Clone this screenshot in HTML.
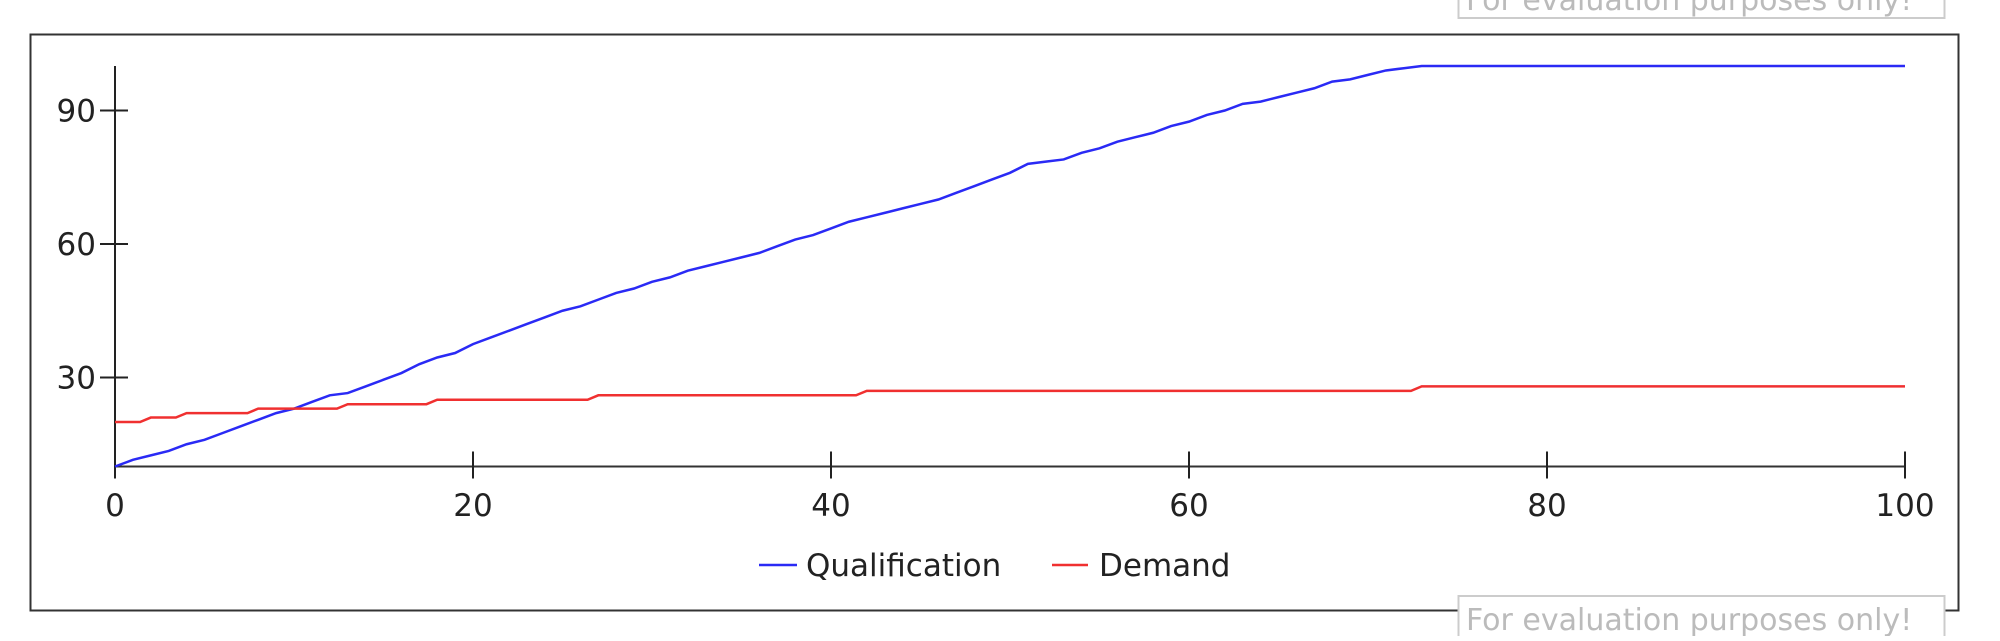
<!DOCTYPE html>
<html><head><meta charset="utf-8"><style>
body{margin:0;background:#fff;width:2000px;height:636px;overflow:hidden}
svg text{font-family:"DejaVu Sans","Liberation Sans",sans-serif}
</style></head><body>
<svg id="chart" width="2000" height="636">
<rect x="30.5" y="34.5" width="1928" height="576" fill="#fff" stroke="#333" stroke-width="2"/>
<g id="axes"></g><g id="series"></g>
<g>
<line x1="759" y1="565" x2="797" y2="565" stroke="#2a2af5" stroke-width="2.5"/>
<text x="806" y="576" font-size="31" fill="#222">Qualification</text>
<line x1="1052" y1="565" x2="1088" y2="565" stroke="#f03030" stroke-width="2.5"/>
<text x="1099" y="576" font-size="31" fill="#222">Demand</text>
</g>
<g><rect x="1458.5" y="-20" width="486" height="38" fill="#fff" stroke="#ccc" stroke-width="2"/><text x="1466" y="10" font-size="30" fill="#bbb" font-family="Liberation Sans">For evaluation purposes only!</text></g>
<g><rect x="1458.5" y="596" width="486" height="50" fill="#fff" stroke="#ccc" stroke-width="2"/><text x="1466" y="630" font-size="30" fill="#bbb" font-family="Liberation Sans">For evaluation purposes only!</text></g>
</svg>
<script>
const xTicks=[0,20,40,60,80,100];
const yTicks=[30,60,90];
const qualification=[10,11.5,12.5,13.5,15,16,17.5,19,20.5,22,23,24.5,26,26.5,28,29.5,31,33,34.5,35.5,37.5,39,40.5,42,43.5,45,46,47.5,49,50,51.5,52.5,54,55,56,57,58,59.5,61,62,63.5,65,66,67,68,69,70,71.5,73,74.5,76,78,78.5,79,80.5,81.5,83,84,85,86.5,87.5,89,90,91.5,92,93,94,95,96.5,97,98,99,99.5,100];
const demandSteps=[0,2,4,8,13,18,27,42,73];
const demandLevels=[20,21,22,23,24,25,26,27,28];
const xMax=100,yMin=10,yMax=100;
const NS='http://www.w3.org/2000/svg';
const X=v=>115+(v/xMax)*1790;
const Y=v=>466.5-(v-yMin)/(yMax-yMin)*400.5;
function mk(t,a,p){const e=document.createElementNS(NS,t);for(const k in a)e.setAttribute(k,a[k]);p.appendChild(e);return e;}
const ax=document.getElementById('axes'),se=document.getElementById('series');
let l=mk('line',{x1:X(0),y1:Y(yMax),x2:X(0),y2:Y(yMin)+12,stroke:'#222','stroke-width':2},ax);


l=mk('line',{x1:X(0),y1:Y(yMin),x2:X(xMax),y2:Y(yMin),stroke:'#333','stroke-width':2},ax);


xTicks.forEach(t=>{
 const tk=mk('line',{x1:X(t),y1:Y(yMin)-15,x2:X(t),y2:Y(yMin)+12,stroke:'#222','stroke-width':2},ax);
 
 
 const tx=mk('text',{x:X(t),y:516,'font-size':31,'text-anchor':'middle',fill:'#222'},ax);
 tx.textContent=t;
 
 
});
yTicks.forEach(t=>{
 const tk=mk('line',{x1:X(0)-15,y1:Y(t),x2:X(0)+13,y2:Y(t),stroke:'#222','stroke-width':2},ax);
 
 
 const tx=mk('text',{x:96,y:Y(t)+11,'font-size':31,'text-anchor':'end',fill:'#222'},ax);
 tx.textContent=t;
 
 
});
let pts=[];
for(let i=0;i<=xMax;i++){const v=i<qualification.length?qualification[i]:qualification[qualification.length-1];pts.push(X(i)+','+Y(v));}
const q=mk('polyline',{points:pts.join(' '),fill:'none',stroke:'#2a2af5','stroke-width':2.5},se);


pts=[];
demandSteps.forEach((s,i)=>{const e=i+1<demandSteps.length?demandSteps[i+1]-0.6:xMax;pts.push(X(s)+','+Y(demandLevels[i]));pts.push(X(e)+','+Y(demandLevels[i]));});
const d=mk('polyline',{points:pts.join(' '),fill:'none',stroke:'#f03030','stroke-width':2.5},se);


</script>
</body></html>
